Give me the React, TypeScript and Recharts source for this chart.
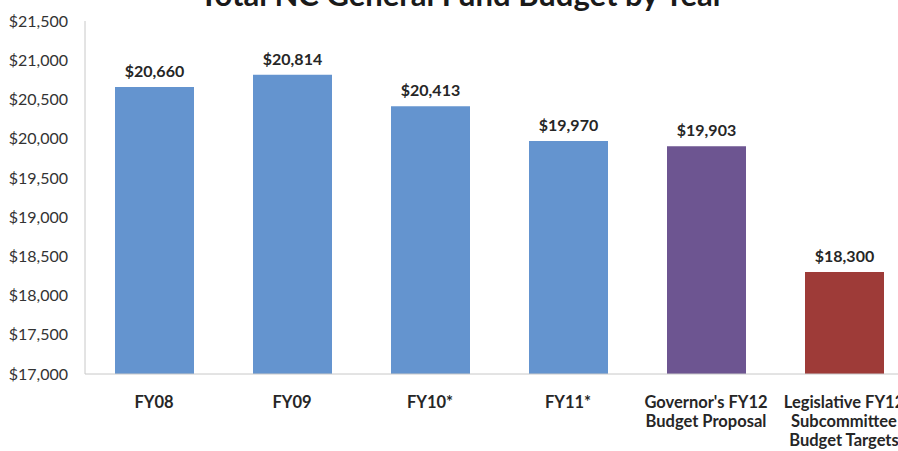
import { BarChart, Bar, XAxis, YAxis, Cell, LabelList } from "recharts";

const categories = [
  ["FY08"],
  ["FY09"],
  ["FY10*"],
  ["FY11*"],
  ["Governor's FY12", "Budget Proposal"],
  ["Legislative FY12", "Subcommittee", "Budget Targets"],
];
const budget = [20660, 20814, 20413, 19970, 19903, 18300];
const yTicks = [17000, 17500, 18000, 18500, 19000, 19500, 20000, 20500, 21000, 21500];

const barColors = ["#6494CF", "#6494CF", "#6494CF", "#6494CF", "#6D5591", "#9E3B38"];
const FONT = "Lato, 'Open Sans', sans-serif";

const data = categories.map((lines, i) => ({
  name: lines.join(" "),
  lines,
  value: budget[i],
}));

const money = (v: number) => "$" + v.toLocaleString("en-US");

function CategoryTick(props: any) {
  const { x, y, payload, index } = props;
  const lines = categories[index] ?? [String(payload.value)];
  return (
    <text
      x={x}
      y={y}
      textAnchor="middle"
      fill="#262626"
      fontFamily={FONT}
      fontWeight="bold"
      fontSize={16.5}
    >
      {lines.map((line, i) => (
        <tspan key={i} x={x} dy={i === 0 ? 34 : 19}>
          {line}
        </tspan>
      ))}
    </text>
  );
}

export default function App() {
  return (
    <div
      style={{
        position: "absolute",
        left: 0,
        top: 0,
        width: 898,
        height: 451,
        overflow: "hidden",
        background: "#fff",
      }}
    >
      <div
        style={{
          position: "absolute",
          left: 0,
          top: -21,
          width: 924,
          textAlign: "center",
          fontFamily: FONT,
          fontWeight: "bold",
          fontSize: 31,
          lineHeight: "31px",
          color: "#1a1a1a",
          whiteSpace: "nowrap",
        }}
      >
        Total NC General Fund Budget by Year
      </div>
      <BarChart
        width={913}
        height={451}
        data={data}
        margin={{ top: 21, right: 0, bottom: 0, left: 0 }}
      >
        <YAxis
          width={85}
          domain={[17000, 21500]}
          ticks={yTicks}
          interval={0}
          tickFormatter={money}
          tickLine={false}
          tickSize={6}
          tickMargin={11}
          axisLine={{ stroke: "#C8C8C8" }}
          tick={{ fill: "#333", fontSize: 16, fontFamily: FONT }}
          allowDataOverflow
        />
        <XAxis
          dataKey="name"
          height={77}
          interval={0}
          tickLine={false}
          tickSize={0}
          tickMargin={0}
          axisLine={{ stroke: "#C8C8C8" }}
          tick={<CategoryTick />}
        />
        <Bar dataKey="value" barSize={79} isAnimationActive={false}>
          {data.map((d, i) => (
            <Cell key={d.name} fill={barColors[i]} />
          ))}
          <LabelList
            dataKey="value"
            position="top"
            offset={10}
            formatter={(v: any) => money(Number(v))}
            fill="#262626"
            fontFamily={FONT}
            fontWeight="bold"
            fontSize={16}
          />
        </Bar>
      </BarChart>
    </div>
  );
}
